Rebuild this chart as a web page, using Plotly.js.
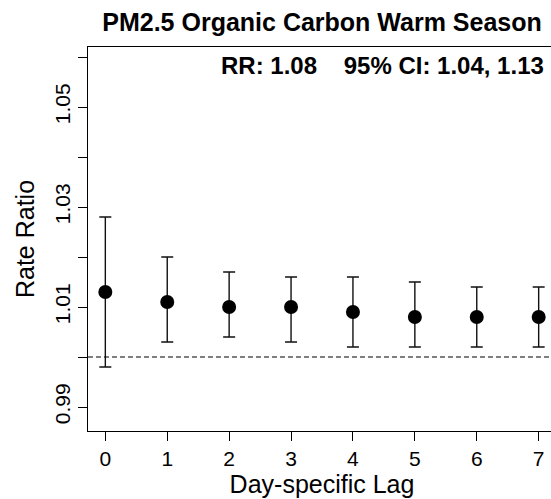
<!DOCTYPE html>
<html>
<head>
<meta charset="utf-8">
<script src="https://cdn.plot.ly/plotly-3.0.1.min.js"></script>
<style>
html, body { margin: 0; padding: 0; overflow: hidden; background: #fff; }
#chart { width: 560px; height: 499px; }
</style>
</head>
<body>
<div id="chart"></div>
<script>
// Data
const lags = [0, 1, 2, 3, 4, 5, 6, 7];
const rateRatio = [1.013, 1.011, 1.010, 1.010, 1.009, 1.008, 1.008, 1.008];
const upperCI = [1.028, 1.020, 1.017, 1.016, 1.016, 1.015, 1.014, 1.014];
const lowerCI = [0.998, 1.003, 1.004, 1.003, 1.002, 1.002, 1.002, 1.002];
const yTickVals = [0.99, 1.00, 1.01, 1.02, 1.03, 1.04, 1.05, 1.06];
const yTickText = ["0.99", "", "1.01", "", "1.03", "", "1.05", ""];
const xTickVals = [0, 1, 2, 3, 4, 5, 6, 7];
const xTickText = ["0", "1", "2", "3", "4", "5", "6", "7"];
const chartTitle = "PM2.5 Organic Carbon Warm Season";
const summaryText = "RR: 1.08\u00a0\u00a0\u00a0\u00a095% CI: 1.04, 1.13";
const referenceValue = 1;

const FONT = "Liberation Sans, Arial, Helvetica, sans-serif";

const errPlus = upperCI.map((u, i) => u - rateRatio[i]);
const errMinus = lowerCI.map((l, i) => rateRatio[i] - l);

const trace = {
  x: lags,
  y: rateRatio,
  type: "scatter",
  mode: "markers",
  marker: { color: "#000", size: 14 },
  error_y: {
    type: "data",
    array: errPlus,
    arrayminus: errMinus,
    symmetric: false,
    color: "#111",
    thickness: 1.4,
    width: 6
  },
  showlegend: false,
  hoverinfo: "skip"
};

const layout = {
  width: 560,
  height: 499,
  margin: { l: 88, r: 4, t: 47, b: 68 },
  paper_bgcolor: "#fff",
  plot_bgcolor: "#fff",
  font: { family: FONT, color: "#000" },
  title: {
    text: "<b>" + chartTitle + "</b>",
    font: { family: FONT, size: 25, color: "#000" },
    x: 0.5, xref: "paper", xanchor: "center",
    y: 1 - 22 / 499, yref: "container", yanchor: "middle"
  },
  xaxis: {
    range: [-0.28, 7.28],
    tickvals: xTickVals,
    ticktext: xTickText,
    ticks: "outside",
    ticklen: 9,
    tickwidth: 1,
    tickcolor: "#000",
    tickfont: { family: FONT, size: 21, color: "#000" },
    showgrid: false,
    zeroline: false,
    showline: true,
    linecolor: "#000",
    linewidth: 1,
    mirror: true,
    title: { text: "Day-specific Lag", font: { family: FONT, size: 25, color: "#000" }, standoff: 6 }
  },
  yaxis: {
    range: [0.9852, 1.062],
    tickvals: yTickVals,
    ticktext: yTickText,
    tickangle: -90,
    ticks: "outside",
    ticklen: 9,
    tickwidth: 1,
    tickcolor: "#000",
    tickfont: { family: FONT, size: 21, color: "#000" },
    showgrid: false,
    zeroline: false,
    showline: true,
    linecolor: "#000",
    linewidth: 1,
    mirror: true,
    title: { text: "Rate Ratio", font: { family: FONT, size: 25, color: "#000" }, standoff: 8 }
  },
  shapes: [{
    type: "line",
    xref: "paper", x0: 0, x1: 1,
    yref: "y", y0: referenceValue, y1: referenceValue,
    line: { color: "#000", width: 1.2, dash: "5px,3px" }
  }],
  annotations: [{
    text: "<b>" + summaryText + "</b>",
    xref: "paper", x: (546 - 88) / 468, xanchor: "right",
    yref: "paper", y: (431 - 65) / 384, yanchor: "middle",
    showarrow: false,
    font: { family: FONT, size: 24, color: "#000" }
  }]
};

Plotly.newPlot("chart", [trace], layout, { displayModeBar: false, staticPlot: true });
</script>
</body>
</html>
